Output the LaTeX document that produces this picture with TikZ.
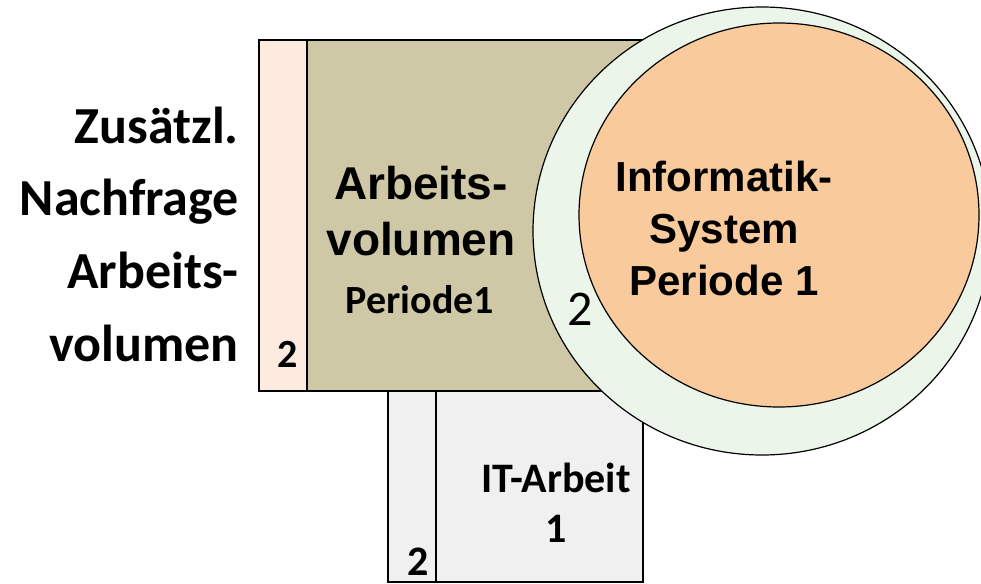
\documentclass[tikz,border=0pt]{standalone}
\usepackage{fontspec}
\usepackage{xcolor}
\usepackage{tikz}
\newfontfamily\calibri{Carlito}
\newfontfamily\arial{Liberation Sans}
\definecolor{peach}{HTML}{FDEBE0}
\definecolor{khaki}{HTML}{CEC8A7}
\definecolor{itgray}{HTML}{F0F0F0}
\definecolor{ringgreen}{HTML}{EBF5EA}
\definecolor{sysorange}{HTML}{F9CB9C}
\tikzstyle{box} = [draw=black, line width=1.2pt]
\tikzstyle{plain} = [inner sep=0pt, text=black]

\begin{document}
\begin{tikzpicture}[x=1pt,y=-1pt]
	\useasboundingbox (0,0) rectangle (981,583);
	
	% Boxes:
	% the narrow ones carry the small numbers
	\draw [box, fill=peach] (259,40) rectangle (307,391);
	\draw [box, fill=khaki] (307,40) rectangle (680,391);
	\draw [box, fill=itgray] (388,391) rectangle (436,582);
	\draw [box, fill=itgray] (436,391) rectangle (643,582);
	
	% Ring and core of the system:
	\draw [box, fill=ringgreen] (762,231) ellipse [x radius=229, y radius=224];
	\draw [box, fill=sysorange] (779,215) ellipse [x radius=200, y radius=192];
	
	% Labels left:
	\foreach \txt [count=\i] in {Zusätzl., Nachfrage, Arbeits-, volumen}
	{
		\node [plain, anchor=base east, font=\calibri\bfseries\fontsize{52}{60}\selectfont] (left\i) at (239,70.5+72.7*\i) {\txt};
	}
	
	% Labels in the boxes:
	\node [plain, anchor=north, align=center, font=\arial\bfseries\fontsize{46}{56}\selectfont] (arbeit) at (421,166) {Arbeits-\\volumen};
	\node [plain, anchor=base, font=\calibri\bfseries\fontsize{40}{48}\selectfont] (periode) at (420,313) {Periode1};
	\node [plain, anchor=north, align=center, font=\calibri\bfseries\fontsize{42}{50}\selectfont] (itarbeit) at (556,463) {IT-Arbeit\\1};
	\node [plain, anchor=north, align=center, font=\arial\bfseries\fontsize{42}{52}\selectfont] (infosys) at (724,161) {Informatik-\\System\\Periode 1};
	
	% Small numbers:
	\node [plain, anchor=base, font=\calibri\bfseries\fontsize{40}{48}\selectfont] (twoleft) at (288,367) {2};
	\node [plain, anchor=base, font=\calibri\bfseries\fontsize{42}{50}\selectfont] (twoit) at (418,575) {2};
	\node [plain, anchor=base, font=\calibri\fontsize{50}{60}\selectfont] (tworing) at (580,325) {2};
	
\end{tikzpicture}
\end{document}
